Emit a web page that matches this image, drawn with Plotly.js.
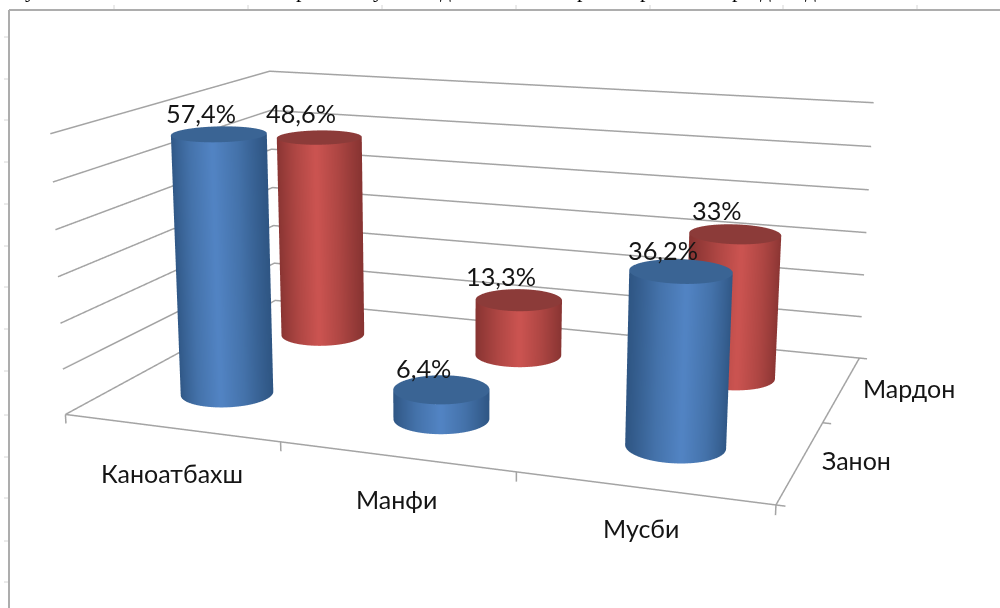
<!DOCTYPE html>
<html><head><meta charset="utf-8">
<script src="https://cdn.plot.ly/plotly-3.0.1.min.js"></script>
<style>html,body{margin:0;padding:0;background:#fff;width:1000px;height:608px;overflow:hidden}
#chart{position:absolute;left:-345px;top:-486px;width:1600px;height:1531px}</style></head>
<body><div id="chart"></div>
<script>
// ---------- data ----------
const categories = ['Каноатбахш', 'Манфи', 'Мусби'];
const seriesNames = ['Занон', 'Мардон'];
const zanon  = [57.4, 6.4, 36.2];
const mardon = [48.6, 13.3, 33];
const zanonLabels  = ['57,4%', '6,4%', '36,2%'];
const mardonLabels = ['48,6%', '13,3%', '33%'];
const gridValues = [0, 10, 20, 30, 40, 50, 60];
const blueScale = [[0,'#2f5684'],[0.5,'#4472aa'],[1,'#5284c4']];
const redScale  = [[0,'#883432'],[0.5,'#ae4643'],[1,'#cc5451']];
const blueTop = '#3a6494', redTop = '#8c3b39';

// ---------- page <-> paper helpers (the plot is larger than the window so that the camera lens matches) ----------
const W = 1600, H = 1531, OX = 345, OY = 486;
const px = x => (x + OX) / W, py = y => 1 - (y + OY) / H;

const R = 0.2, N = 96, viewAz = -70 * Math.PI / 180;
const light = {ambient: 1, diffuse: 0, specular: 0, roughness: 1, fresnel: 0};
function cylinder(cx, cy, value, scale, topColor) {
  const xs = [[], []], ys = [[], []], zs = [[], []], col = [[], []];
  for (let i = 0; i <= N; i++) {
    const t = i / N * 2 * Math.PI;
    const x = cx + R * Math.cos(t), y = cy + R * Math.sin(t), s = 1 - Math.abs(Math.sin(t - viewAz));
    xs[0].push(x); xs[1].push(x); ys[0].push(y); ys[1].push(y);
    zs[0].push(0); zs[1].push(value); col[0].push(s); col[1].push(s);
  }
  const side = {type: 'surface', x: xs, y: ys, z: zs, surfacecolor: col, colorscale: scale, cmin: 0, cmax: 1,
    showscale: false, hoverinfo: 'skip', lighting: light};
  const tx = [[], []], ty = [[], []], tz = [[], []], tc = [[], []];
  for (let i = 0; i <= N; i++) {
    const t = i / N * 2 * Math.PI;
    tx[0].push(cx); ty[0].push(cy); tx[1].push(cx + R * Math.cos(t)); ty[1].push(cy + R * Math.sin(t));
    tz[0].push(value); tz[1].push(value); tc[0].push(0); tc[1].push(0);
  }
  const top = {type: 'surface', x: tx, y: ty, z: tz, surfacecolor: tc, cmin: 0, cmax: 1,
    colorscale: [[0, topColor], [1, topColor]], showscale: false, hoverinfo: 'skip', lighting: light};
  return [side, top];
}
const traces = [];
const lineStyle = {color: '#a4a4a4', width: 3};
const gx = [], gy = [], gz = [];
const seg = (pts) => { pts.forEach(p => { gx.push(p[0]); gy.push(p[1]); gz.push(p[2]); }); gx.push(null); gy.push(null); gz.push(null); };
gridValues.forEach(v => seg([[0, 0, v], [0, 2, v], [3, 2, v]]));
seg([[0, 0, 0], [3, 0, 0], [3, 2, 0]]);
[0, 1, 2, 3].forEach(x => seg([[x, 0, 0], [x, 0, -2]]));
[0, 1, 2].forEach(y => seg([[3, y, 0], [3.035, y, 0]]));
traces.push({type: 'scatter3d', mode: 'lines', x: gx, y: gy, z: gz, line: lineStyle, hoverinfo: 'skip', connectgaps: false});
categories.forEach((c, i) => {
  traces.push(...cylinder(i + 0.5, 1.5, mardon[i], redScale, redTop));
  traces.push(...cylinder(i + 0.5, 0.5, zanon[i], blueScale, blueTop));
});
const fam = 'Lato, Noto Sans, sans-serif';
const ann = (x, y, z, text, size, xs, ys) => ({x, y, z, text, showarrow: false, xanchor: 'center', yanchor: 'bottom',
  xshift: xs, yshift: ys, font: {family: fam, size, color: '#151515'}});
const anns = [];
const catShiftX = [1, 1, -2], catShiftY = [-62, -59, -57];
categories.forEach((c, i) => {
  anns.push(ann(i + 0.5, 0.5, zanon[i], zanonLabels[i], 25.3, -18, 4));
  anns.push(ann(i + 0.5, 1.5, mardon[i], mardonLabels[i], 25.3, -18, 7));
  anns.push(ann(i + 0.5, 0, 0, c, 25, catShiftX[i], catShiftY[i]));
});
anns.push(ann(3, 0.5, 0, seriesNames[0], 25, 56, -16));
anns.push(ann(3, 1.5, 0, seriesNames[1], 25, 67, -16));

const axisBase = {title: {text: ''}, showgrid: false, zeroline: false, showspikes: false, showbackground: false,
  showticklabels: false, autorange: false, showline: false, ticks: ''};
// scene box: a little wider than the plotted box so that edge lines and tick marks are not clipped
const s = 2.6, ux = 0.3847 / 3 * s, uy = 0.2578 / 2 * s, uz = 0.153 / 60 * s;
const xr = [-0.02, 3.1], yr = [-0.02, 2.02], zr = [-2.5, 60.6];
const dx = ((xr[0] + xr[1]) / 2 - 1.5) * ux, dy = ((yr[0] + yr[1]) / 2 - 1) * uy, dz = ((zr[0] + zr[1]) / 2 - 30) * uz;
const frame = (x0, y0, x1, y1, color, width) => ({type: 'line', xref: 'paper', yref: 'paper',
  x0: px(x0), x1: px(x1), y0: py(y0), y1: py(y1), line: {color, width}});
const topTicks = [114, 248, 382, 516, 650, 783, 917];
const leftTicks = [37, 79, 120, 162, 204, 246, 287, 329, 371, 415, 457, 498, 541, 582];
const scrap = [['у', 30], ['р', 301], ['у', 378], ['д', 445], ['р', 583], ['р', 645], ['р', 737], ['д', 765], ['д', 810]];
const layout = {
  width: W, height: H, margin: {l: 0, r: 0, t: 0, b: 0}, paper_bgcolor: '#fff', showlegend: false,
  scene: {
    domain: {x: [0, 1], y: [0, 1]},
    aspectmode: 'manual', aspectratio: {x: (xr[1] - xr[0]) * ux, y: (yr[1] - yr[0]) * uy, z: (zr[1] - zr[0]) * uz},
    camera: {projection: {type: 'perspective'}, up: {x: 0, y: 0, z: 1},
      eye: {x: 0.3367 * s - dx, y: -0.9437 * s - dy, z: 0.2368 * s - dz},
      center: {x: -0.0131 * s - dx, y: -0.0087 * s - dy, z: -0.014 * s - dz}},
    xaxis: {...axisBase, range: xr},
    yaxis: {...axisBase, range: yr},
    zaxis: {...axisBase, range: zr},
    annotations: anns
  },
  annotations: scrap.map(([t, x]) => ({xref: 'paper', yref: 'paper', x: px(x), y: py(4), xanchor: 'center', yanchor: 'bottom',
    text: t, showarrow: false, font: {family: 'Liberation Serif, serif', size: 22, color: '#000'}})),
  shapes: [
    ...topTicks.map(x => frame(x, 5, x, 10, '#d6d6d6', 1)),
    ...leftTicks.map(y => frame(4, y, 9, y, '#d6d6d6', 1)),
    frame(9, 10, 9, 608, '#adadad', 2),
    frame(9, 10, 1000, 10, '#adadad', 2)
  ]
};
Plotly.newPlot('chart', traces, layout, {displayModeBar: false});
</script></body></html>
